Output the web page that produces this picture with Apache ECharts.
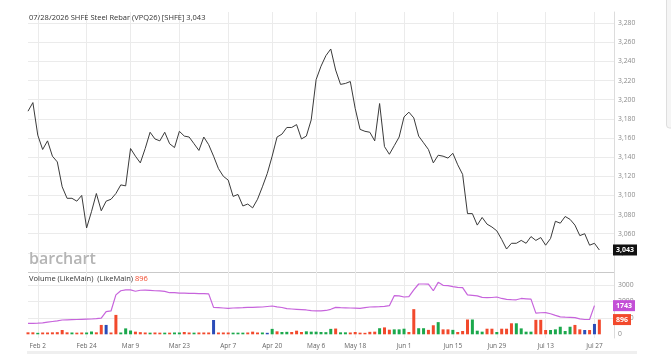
<!DOCTYPE html>
<html><head><meta charset="utf-8">
<script src="https://cdn.jsdelivr.net/npm/echarts@6/dist/echarts.min.js"></script>
<style>html,body{margin:0;padding:0;background:#fff}#c{width:671px;height:354px}</style>
</head><body><div id="c"></div>
<script>
const dates = [
 "Jan 29","Jan 30",
 "Feb 2","Feb 3","Feb 4","Feb 5","Feb 6",
 "Feb 9","Feb 10","Feb 11","Feb 12","Feb 13",
 "Feb 24","Feb 25","Feb 26","Feb 27",
 "Mar 2","Mar 3","Mar 4","Mar 5","Mar 6",
 "Mar 9","Mar 10","Mar 11","Mar 12","Mar 13",
 "Mar 16","Mar 17","Mar 18","Mar 19","Mar 20",
 "Mar 23","Mar 24","Mar 25","Mar 26","Mar 27",
 "Mar 30","Mar 31","Apr 1","Apr 2","Apr 3",
 "Apr 7","Apr 8","Apr 9","Apr 10",
 "Apr 13","Apr 14","Apr 15","Apr 16","Apr 17",
 "Apr 20","Apr 21","Apr 22","Apr 23","Apr 24",
 "Apr 27","Apr 28","Apr 29","Apr 30",
 "May 6","May 7","May 8",
 "May 11","May 12","May 13","May 14","May 15",
 "May 18","May 19","May 20","May 21","May 22",
 "May 25","May 26","May 27","May 28","May 29",
 "Jun 1","Jun 2","Jun 3","Jun 4","Jun 5",
 "Jun 8","Jun 9","Jun 10","Jun 11","Jun 12",
 "Jun 15","Jun 16","Jun 17","Jun 18",
 "Jun 22","Jun 23","Jun 24","Jun 25","Jun 26",
 "Jun 29","Jun 30","Jul 1","Jul 2","Jul 3",
 "Jul 6","Jul 7","Jul 8","Jul 9","Jul 10",
 "Jul 13","Jul 14","Jul 15","Jul 16","Jul 17",
 "Jul 20","Jul 21","Jul 22","Jul 23","Jul 24",
 "Jul 27","Jul 28"
];
const padCats = [" ", "  ", "   "];
const tickLabels = ["Feb 2","Feb 24","Mar 9","Mar 23","Apr 7","Apr 20","May 6","May 18","Jun 1","Jun 15","Jun 29","Jul 13","Jul 27"];

const price = [
 3188,3197,3163,3148,3157,3141,3135,3109,3097,3097,
 3094,3100,3066,3083,3102,3084,3094,3096,3102,3111,
 3110,3149,3141,3134,3149,3166,3159,3157,3166,3154,
 3150,3167,3162,3161,3154,3147,3161,3153,3141,3128,
 3120,3116,3099,3101,3089,3091,3087,3096,3109,3123,
 3141,3161,3164,3171,3171,3174,3159,3162,3179,3221,
 3235,3246,3253,3231,3216,3217,3219,3191,3169,3167,
 3166,3157,3196,3151,3143,3152,3161,3182,3187,3181,
 3162,3155,3148,3134,3142,3141,3139,3144,3132,3122,
 3081,3081,3069,3077,3070,3067,3063,3054,3044,3050,
 3050,3053,3050,3057,3053,3056,3048,3055,3073,3071,
 3078,3075,3069,3058,3060,3048,3050,3043
];

const volume = [
 120,120,90,110,110,120,130,260,120,110,
 100,110,110,170,120,570,570,110,1180,110,
 360,230,160,130,110,100,110,100,100,100,
 110,110,140,110,100,110,110,110,870,110,
 110,110,100,100,100,110,160,110,110,90,
 330,180,140,150,140,220,140,180,160,160,
 140,130,330,350,120,120,110,140,100,90,
 150,160,370,420,280,300,300,340,140,1530,
 370,370,270,550,740,300,300,270,140,200,
 900,900,220,160,340,340,140,340,340,670,
 670,360,160,160,880,880,260,260,300,460,
 200,460,570,300,260,260,630,896
];
// r = down day, g = up day, b = unchanged
const volumeTone = [
 "r","r","g","r","r","r","r","r","r","g",
 "r","r","g","g","r","r","b","r","r","g",
 "g","g","r","r","r","g","r","r","g","r",
 "g","g","r","r","g","r","r","r","b","r",
 "r","r","g","g","g","r","r","r","g","b",
 "g","r","g","g","r","r","r","g","g","g",
 "g","g","g","r","g","g","r","r","r","r",
 "r","r","g","r","r","g","g","g","r","r",
 "g","g","r","r","g","r","r","g","r","r",
 "r","g","g","g","r","r","g","r","r","r",
 "g","g","g","g","r","r","r","g","g","g",
 "g","g","r","r","b","r","b","r"
];

const openInterest = [
 670,670,680,700,740,780,820,870,880,890,
 900,910,920,930,950,980,1380,1420,2400,2650,
 2700,2700,2620,2680,2690,2670,2650,2640,2610,2530,
 2540,2510,2500,2490,2490,2480,2470,2460,1640,1620,
 1600,1580,1600,1610,1620,1640,1640,1650,1660,1690,
 1720,1670,1630,1560,1540,1520,1500,1480,1440,1420,
 1430,1450,1520,1640,1620,1610,1600,1590,1580,1620,
 1660,1670,1680,1700,1740,2350,2340,2270,2290,2700,
 3060,3060,3050,2650,3160,2980,2960,2900,2860,2840,
 2400,2370,2340,2250,2230,2240,2270,2180,2130,2110,
 2100,2180,2160,2140,1290,1310,1320,1250,1150,1060,
 1040,1030,1010,940,900,900,1743,null
];

const titleText = "07/28/2026 SHFE Steel Rebar (VPQ26) [SHFE]";
const volumeTitle = "Volume (LikeMain)  (LikeMain)";

const toneColor = {r:"#f2492c", g:"#1ba84c", b:"#2a4cb8"};
const purple = "#c764dc";
const cats = dates.concat(padCats);
const fmt = v => Number(v).toLocaleString("en-US");
const plain = v => String(v);
const lastPrice = price[price.length-1];
const lastVol = volume[volume.length-1];
const lastOI = openInterest.filter(v => v != null).slice(-1)[0];
const L = 28, R = 57;
const isTick = (i, v) => tickLabels.indexOf(v) >= 0;
const mainSplit = ["#c9c9c9"].concat(new Array(13).fill("#ebebeb"));

function tag(value, text, bg) {
  return {
    silent: true, symbol: "none", animation: false,
    lineStyle: {width: 0, color: "rgba(0,0,0,0)"},
    label: {position: "end", distance: -1, formatter: text, backgroundColor: bg,
      color: "#fff", fontWeight: "bold", fontSize: 7, fontFamily: "Open Sans",
      padding: [2, 3, 1, 3], lineHeight: 8},
    data: [{yAxis: value}]
  };
}

const chart = echarts.init(document.getElementById("c"), null, {renderer: "canvas"});
chart.setOption({
  animation: false,
  backgroundColor: "#fff",
  textStyle: {fontFamily: "Open Sans"},
  title: [
    {text: titleText + " " + fmt(lastPrice), left: 29, top: 12.5, padding: 0,
     textStyle: {fontSize: 7.5, fontWeight: "normal", color: "#333", fontFamily: "Open Sans", lineHeight: 10}},
    {text: volumeTitle + " {r|" + plain(lastVol) + "}", left: 29, top: 274, padding: 0,
     textStyle: {fontSize: 7.5, fontWeight: "normal", color: "#333", fontFamily: "Open Sans", lineHeight: 10,
       rich: {r: {color: "#f2492c", fontSize: 7.5, fontFamily: "Open Sans"}}}}
  ],
  grid: [
    {left: L, right: R, top: 4, height: 268},
    {left: L, right: R, top: 272, height: 62.3},
    {left: L, right: R, top: 12, height: 326}
  ],
  xAxis: [
    {gridIndex: 0, type: "category", data: cats, boundaryGap: false, show: false},
    {gridIndex: 1, type: "category", data: cats, boundaryGap: false, show: false},
    {gridIndex: 2, type: "category", data: cats, boundaryGap: false,
     axisLine: {show: false}, axisTick: {show: false},
     axisLabel: {interval: isTick, color: "#666", fontSize: 6.5, margin: 5, fontFamily: "Open Sans"},
     splitLine: {show: true, interval: isTick, lineStyle: {color: "#ebebeb", width: 1}}}
  ],
  yAxis: [
    {gridIndex: 0, type: "value", position: "right", min: 3020, max: 3300, interval: 20,
     axisLine: {show: false}, axisTick: {show: false},
     axisLabel: {margin: 4, fontSize: 6.8, color: "#8c8c8c", fontFamily: "Open Sans",
       formatter: v => (v <= 3020 || v >= 3300) ? "" : fmt(v)},
     splitLine: {show: true, showMaxLine: false, lineStyle: {color: mainSplit, width: 1}}},
    {gridIndex: 1, type: "value", position: "right", min: 0, max: 3790, interval: 1000,
     axisLine: {show: false}, axisTick: {show: false},
     axisLabel: {margin: 4, fontSize: 6.8, color: "#8c8c8c", fontFamily: "Open Sans",
       formatter: v => v > 3000 ? "" : String(v)},
     splitLine: {show: true, showMinLine: false, showMaxLine: false, lineStyle: {color: "#ebebeb", width: 1}}},
    {gridIndex: 2, type: "value", position: "right",
     axisLine: {show: true, lineStyle: {color: "#dcdcdc", width: 1}},
     axisTick: {show: false}, axisLabel: {show: false}, splitLine: {show: false}}
  ],
  series: [
    {type: "line", xAxisIndex: 0, yAxisIndex: 0, data: price, symbol: "none",
     lineStyle: {color: "#3a3a3a", width: 1}, z: 5, markLine: tag(lastPrice, fmt(lastPrice), "#111")},
    {type: "bar", xAxisIndex: 1, yAxisIndex: 1, data: volume, barWidth: 3,
     itemStyle: {color: p => toneColor[volumeTone[p.dataIndex]]}, z: 3,
     markLine: tag(lastVol, plain(lastVol), "#f2492c")},
    {type: "line", xAxisIndex: 1, yAxisIndex: 1, data: openInterest, symbol: "none",
     lineStyle: {color: purple, width: 1.2}, z: 4, markLine: tag(lastOI, plain(lastOI), "#c34fd6")}
  ],
  graphic: [
    {type: "text", left: 29, top: 251, z: 10,
     style: {text: "barchart", font: "600 16px 'Open Sans'", fill: "#b4b4b4"}},
    {type: "rect", shape: {x: 666.5, y: -5, width: 10, height: 133, r: 3}, z: 10,
     style: {fill: "#f5f5f5", stroke: "#dedede", lineWidth: 1}},
    {type: "rect", shape: {x: 27, y: 351, width: 610, height: 4}, z: 10,
     style: {fill: "#efefef"}}
  ]
});
</script></body></html>
